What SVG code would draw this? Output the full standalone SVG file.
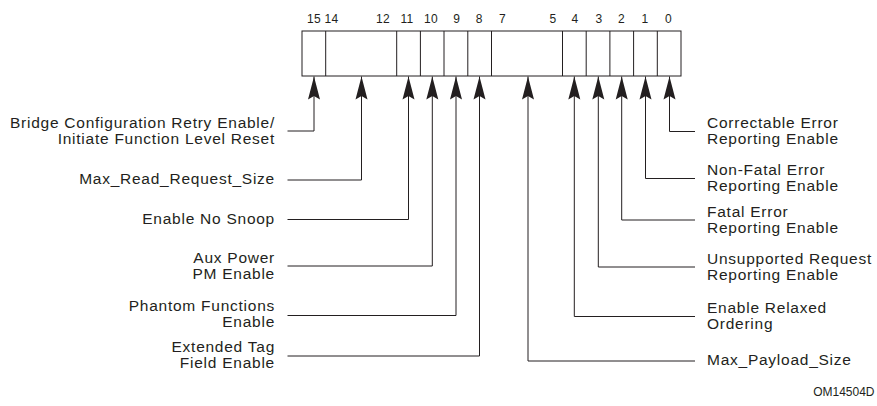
<svg xmlns="http://www.w3.org/2000/svg" width="877" height="406" viewBox="0 0 877 406">
<style>
  .bg { fill: #ffffff; }
  .reg { fill: #ffffff; stroke: #231f20; stroke-width: 1; }
  .div { stroke: #231f20; stroke-width: 1; fill: none; }
  .num { font-family: "Liberation Sans", Arial, sans-serif; font-size: 12px; fill: #231f20; text-anchor: middle; letter-spacing: 0.3px; }
  .lbl { font-family: "Liberation Sans", Arial, sans-serif; font-size: 15.5px; fill: #231f20; letter-spacing: 0.75px; }
  .l { text-anchor: end; }
  .r { text-anchor: start; }
  .conn { fill: none; stroke: #231f20; stroke-width: 1; marker-end: url(#ah); }
  .tag { font-family: "Liberation Sans", Arial, sans-serif; font-size: 12px; fill: #231f20; text-anchor: end; }
</style>
<defs>
  <marker id="ah" markerUnits="userSpaceOnUse" viewBox="-24 -7 25 14" markerWidth="25" markerHeight="14" refX="0" refY="0" orient="auto">
    <path d="M0,0 L-23,-6 L-19.5,0 L-23,6 Z" fill="#231f20"/>
  </marker>
</defs>
<rect class="bg" x="0" y="0" width="877" height="406"/>

<g id="register">
  <rect class="reg" x="302" y="31" width="379" height="45"/>
  <path class="div" d="M325.7,31V76 M396.7,31V76 M420.4,31V76 M444,31V76 M467.8,31V76 M491.5,31V76 M562.5,31V76 M586.2,31V76 M609.9,31V76 M633.6,31V76 M657.3,31V76"/>
  <g id="bit-numbers">
    <text class="num" x="314" y="22.5">15</text>
    <text class="num" x="331.5" y="22.5">14</text>
    <text class="num" x="383" y="22.5">12</text>
    <text class="num" x="407" y="22.5">11</text>
    <text class="num" x="431" y="22.5">10</text>
    <text class="num" x="456.7" y="22.5">9</text>
    <text class="num" x="479.3" y="22.5">8</text>
    <text class="num" x="502.5" y="22.5">7</text>
    <text class="num" x="553" y="22.5">5</text>
    <text class="num" x="575" y="22.5">4</text>
    <text class="num" x="599" y="22.5">3</text>
    <text class="num" x="621.5" y="22.5">2</text>
    <text class="num" x="645" y="22.5">1</text>
    <text class="num" x="668.5" y="22.5">0</text>
  </g>
</g>

<g id="connectors">
  <polyline class="conn" points="287.5,131 314,131 314,76.5"/>
  <polyline class="conn" points="287.5,180 361.5,180 361.5,76.5"/>
  <polyline class="conn" points="287.5,219.5 408.5,219.5 408.5,76.5"/>
  <polyline class="conn" points="287.5,266 432.3,266 432.3,76.5"/>
  <polyline class="conn" points="287.5,315.5 456,315.5 456,76.5"/>
  <polyline class="conn" points="287.5,356 479.5,356 479.5,76.5"/>
  <polyline class="conn" points="695,361 528,361 528,76.5"/>
  <polyline class="conn" points="695,316.5 574.3,316.5 574.3,76.5"/>
  <polyline class="conn" points="695,267 598.3,267 598.3,76.5"/>
  <polyline class="conn" points="695,220 621.7,220 621.7,76.5"/>
  <polyline class="conn" points="695,178.5 645.5,178.5 645.5,76.5"/>
  <polyline class="conn" points="695,131.5 669.5,131.5 669.5,76.5"/>
</g>

<g id="bit15-label"><text class="lbl l" x="275" y="128">Bridge Configuration Retry Enable/</text><text class="lbl l" x="275" y="144">Initiate Function Level Reset</text></g>
<g id="bit14-12-label"><text class="lbl l" x="275" y="184">Max_Read_Request_Size</text></g>
<g id="bit11-label"><text class="lbl l" x="275" y="223.5">Enable No Snoop</text></g>
<g id="bit10-label"><text class="lbl l" x="275" y="262.5">Aux Power</text><text class="lbl l" x="275" y="278.5">PM Enable</text></g>
<g id="bit9-label"><text class="lbl l" x="275" y="311">Phantom Functions</text><text class="lbl l" x="275" y="327">Enable</text></g>
<g id="bit8-label"><text class="lbl l" x="275" y="352">Extended Tag</text><text class="lbl l" x="275" y="368">Field Enable</text></g>

<g id="bit0-label"><text class="lbl r" x="707" y="128">Correctable Error</text><text class="lbl r" x="707" y="144">Reporting Enable</text></g>
<g id="bit1-label"><text class="lbl r" x="707" y="174.5">Non-Fatal Error</text><text class="lbl r" x="707" y="190.5">Reporting Enable</text></g>
<g id="bit2-label"><text class="lbl r" x="707" y="217">Fatal Error</text><text class="lbl r" x="707" y="233">Reporting Enable</text></g>
<g id="bit3-label"><text class="lbl r" x="707" y="263.5">Unsupported Request</text><text class="lbl r" x="707" y="279.5">Reporting Enable</text></g>
<g id="bit4-label"><text class="lbl r" x="707" y="313">Enable Relaxed</text><text class="lbl r" x="707" y="329">Ordering</text></g>
<g id="bit7-5-label"><text class="lbl r" x="707" y="365">Max_Payload_Size</text></g>

<g id="figure-id"><text class="tag" x="874.5" y="396">OM14504D</text></g>
</svg>
